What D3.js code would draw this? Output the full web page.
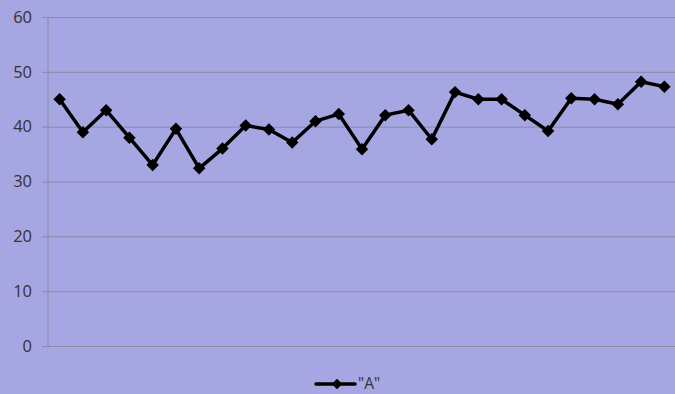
<!DOCTYPE html>
<html>
<head>
<meta charset="utf-8">
<script src="https://cdn.jsdelivr.net/npm/d3@7/dist/d3.min.js"></script>
<style>
  html, body { margin: 0; padding: 0; background: #a6a6e2; overflow: hidden; }
  svg { display: block; }
  text { font-family: "Open Sans", "Liberation Sans", sans-serif; fill: #333; }
</style>
</head>
<body>
<svg id="chart" width="675" height="394"></svg>
<script>
// Series "A" — one value per category
const categories = d3.range(1, 28);
const seriesA = [45, 39, 43, 38, 33, 39.6, 32.4, 36, 40.2, 39.5, 37.1, 41, 42.3, 35.9,
                 42.1, 43, 37.7, 46.3, 45, 45, 42.1, 39.2, 45.2, 45, 44.1, 48.2, 47.3];
const seriesName = '"A"';
const yTicks = [0, 10, 20, 30, 40, 50, 60];

const W = 675, H = 394;
const margin = { left: 48, top: 17 };
const plotW = 628;            // plot runs slightly past the right edge
const plotBottom = 346;

const svg = d3.select("#chart");
svg.append("rect").attr("width", W).attr("height", H).attr("fill", "#a6a6e2");

const x = d3.scaleBand().domain(categories).range([margin.left, margin.left + plotW]);
const y = d3.scaleLinear().domain([0, 60]).range([plotBottom, margin.top]);

// horizontal gridlines + y labels
const yAxis = d3.axisLeft(y).tickValues(yTicks).tickSize(6).tickPadding(10);
const gy = svg.append("g").attr("transform", `translate(${margin.left},0)`).call(yAxis);
gy.select(".domain").remove();
gy.selectAll(".tick line").attr("stroke", "#8a8aa6").attr("x1", -6).attr("x2", W);
gy.selectAll(".tick text")
  .attr("font-size", 16.5)
  .attr("fill", "#333")
  .style("font-family", '"Open Sans", "Liberation Sans", sans-serif');

// vertical axis line
svg.append("line")
  .attr("x1", margin.left).attr("x2", margin.left)
  .attr("y1", margin.top).attr("y2", plotBottom)
  .attr("stroke", "#8a8aa6").attr("stroke-width", 1);

const cx = (d, i) => x(categories[i]) + x.bandwidth() / 2;

// series line
const line = d3.line().x((d, i) => cx(d, i)).y(d => y(d));
svg.append("path")
  .datum(seriesA)
  .attr("d", line)
  .attr("fill", "none")
  .attr("stroke", "#000")
  .attr("stroke-width", 3.5)
  .attr("stroke-linejoin", "round");

// diamond markers (rotated squares)
svg.append("g").selectAll("path")
  .data(seriesA)
  .join("path")
  .attr("d", d3.symbol().type(d3.symbolSquare).size(78))
  .attr("transform", (d, i) => `translate(${cx(d, i)},${y(d)}) rotate(45)`)
  .attr("fill", "#000");

// legend
const lg = svg.append("g").attr("transform", "translate(316,384)");
lg.append("line").attr("x1", 0).attr("x2", 39).attr("y1", 0).attr("y2", 0)
  .attr("stroke", "#000").attr("stroke-width", 3.5).attr("stroke-linecap", "round");
lg.append("path").attr("d", d3.symbol().type(d3.symbolSquare).size(55))
  .attr("transform", "translate(21,0) rotate(45)").attr("fill", "#000");
lg.append("text").attr("x", 42).attr("y", 5)
  .attr("font-size", 15.5).text(seriesName);
</script>
</body>
</html>
